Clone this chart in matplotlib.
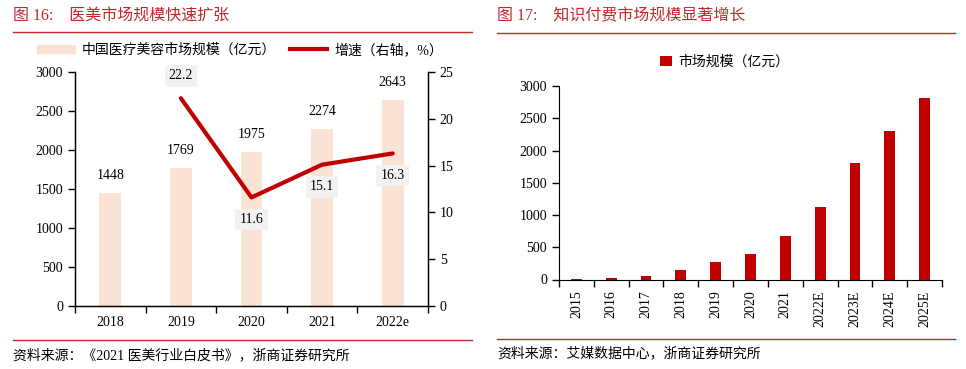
import matplotlib
matplotlib.use("Agg")
import matplotlib.pyplot as plt
import numpy as np
from matplotlib.lines import Line2D
from matplotlib.patches import Patch

plt.rcParams["font.family"] = ["Liberation Serif", "Noto Sans CJK SC"]
plt.rcParams["font.size"] = 10

# ---------------------------------------------------------------------------
# Data
# ---------------------------------------------------------------------------
med_years = ["2018", "2019", "2020", "2021", "2022e"]
med_market = [1448, 1769, 1975, 2274, 2643]
med_growth_years = ["2019", "2020", "2021", "2022e"]
med_growth = [22.2, 11.6, 15.1, 16.3]

know_years = ["2015", "2016", "2017", "2018", "2019", "2020", "2021",
              "2022E", "2023E", "2024E", "2025E"]
know_market = [12, 25, 49, 145, 272, 392, 673, 1126, 1800, 2298, 2808]

RED = "#C00000"
TITLE_RED = "#C0282D"
PEACH = "#FAE3D4"
BOX_GREY = "#F2F2F2"

W, H = 966, 369
fig = plt.figure(figsize=(W / 100, H / 100), dpi=100)


def px_axes(x0, y0, x1, y1):
    return fig.add_axes([x0 / W, (H - y1) / H, (x1 - x0) / W, (y1 - y0) / H])


def hline(x0, x1, y):
    fig.add_artist(Line2D([x0 / W, x1 / W], [(H - y) / H, (H - y) / H],
                          color=TITLE_RED, linewidth=1.0))


def cat_ticks(ax, labels, rotation=0):
    n = len(labels)
    ax.set_xlim(-0.5, n - 0.5)
    ax.set_xticks(np.arange(-0.5, n), labels=[""] * (n + 1))
    ax.set_xticks(np.arange(n), labels=labels, minor=True, rotation=rotation)
    ax.tick_params(axis="x", which="major", direction="out", length=5, width=1)
    ax.tick_params(axis="x", which="minor", length=0, labelsize=10,
                   pad=8 if rotation else 7)


# ---------------------------------------------------------------------------
# Left panel
# ---------------------------------------------------------------------------
fig.text(13 / W, (H - 16) / H, "图 16:    医美市场规模快速扩张", color=TITLE_RED,
         fontsize=11.5, va="center", ha="left")
hline(13, 472, 32)

ax1 = px_axes(75, 72, 428, 306)
x = np.arange(len(med_years))
ax1.bar(x, med_market, width=0.31, color=PEACH, zorder=1)
ax1.set_ylim(0, 3000)
ax1.set_yticks(np.arange(0, 3001, 500))
ax1.tick_params(axis="y", direction="out", length=5, width=1, labelsize=10)
cat_ticks(ax1, med_years)
ax1.spines["top"].set_visible(False)
for s in ["left", "bottom", "right"]:
    ax1.spines[s].set_linewidth(1)
for xi, v in zip(x, med_market):
    ax1.annotate(f"{v}", (xi, v), xytext=(0, 8), textcoords="offset points",
                 ha="center", va="bottom", fontsize=10)

ax1b = ax1.twinx()
ax1b.set_ylim(0, 25)
ax1b.set_yticks(np.arange(0, 26, 5))
ax1b.tick_params(axis="y", direction="out", length=5, width=1, labelsize=10)
ax1b.spines["top"].set_visible(False)
gx = [med_years.index(y) for y in med_growth_years]
ax1b.plot(gx, med_growth, color=RED, linewidth=3, solid_capstyle="round", zorder=3)
offsets = [16, -16, -16, -16]
for xi, v, off in zip(gx, med_growth, offsets):
    ax1b.annotate(f"{v}", (xi, v), xytext=(0, off), textcoords="offset points",
                  ha="center", va="center", fontsize=10,
                  bbox=dict(boxstyle="square,pad=0.3", fc=BOX_GREY, ec="none"))

fig.legend(handles=[Patch(color=PEACH), Line2D([], [], color=RED, linewidth=3)],
           labels=["中国医疗美容市场规模（亿元）", "增速（右轴，%）"],
           loc="center", bbox_to_anchor=(240 / W, (H - 50) / H), ncol=2,
           frameon=False, fontsize=10, handlelength=2.7, handleheight=0.6,
           columnspacing=1.0, handletextpad=0.5)

hline(13, 472, 340)
fig.text(13 / W, (H - 355) / H, "资料来源：《2021 医美行业白皮书》，浙商证券研究所",
         fontsize=10, va="center", ha="left")

# ---------------------------------------------------------------------------
# Right panel
# ---------------------------------------------------------------------------
fig.text(497 / W, (H - 16) / H, "图 17:    知识付费市场规模显著增长", color=TITLE_RED,
         fontsize=11.5, va="center", ha="left")
hline(497, 955, 33)

ax2 = px_axes(559, 86, 942, 279.5)
x2 = np.arange(len(know_years))
ax2.bar(x2, know_market, width=0.31, color=RED, label="市场规模（亿元）")
ax2.set_ylim(0, 3000)
ax2.set_yticks(np.arange(0, 3001, 500))
ax2.tick_params(axis="y", direction="out", length=5, width=1, labelsize=10)
cat_ticks(ax2, know_years, rotation=90)
ax2.spines["top"].set_visible(False)
ax2.spines["right"].set_visible(False)
ax2.legend(loc="center", bbox_to_anchor=(725 / W, (H - 62) / H),
           bbox_transform=fig.transFigure, frameon=False, fontsize=10,
           handlelength=0.8, handleheight=0.8, handletextpad=0.5)

hline(497, 955, 339)
fig.text(497 / W, (H - 353) / H, "资料来源：艾媒数据中心，浙商证券研究所",
         fontsize=10, va="center", ha="left")

fig.savefig("out.png", dpi=100, facecolor="white")
